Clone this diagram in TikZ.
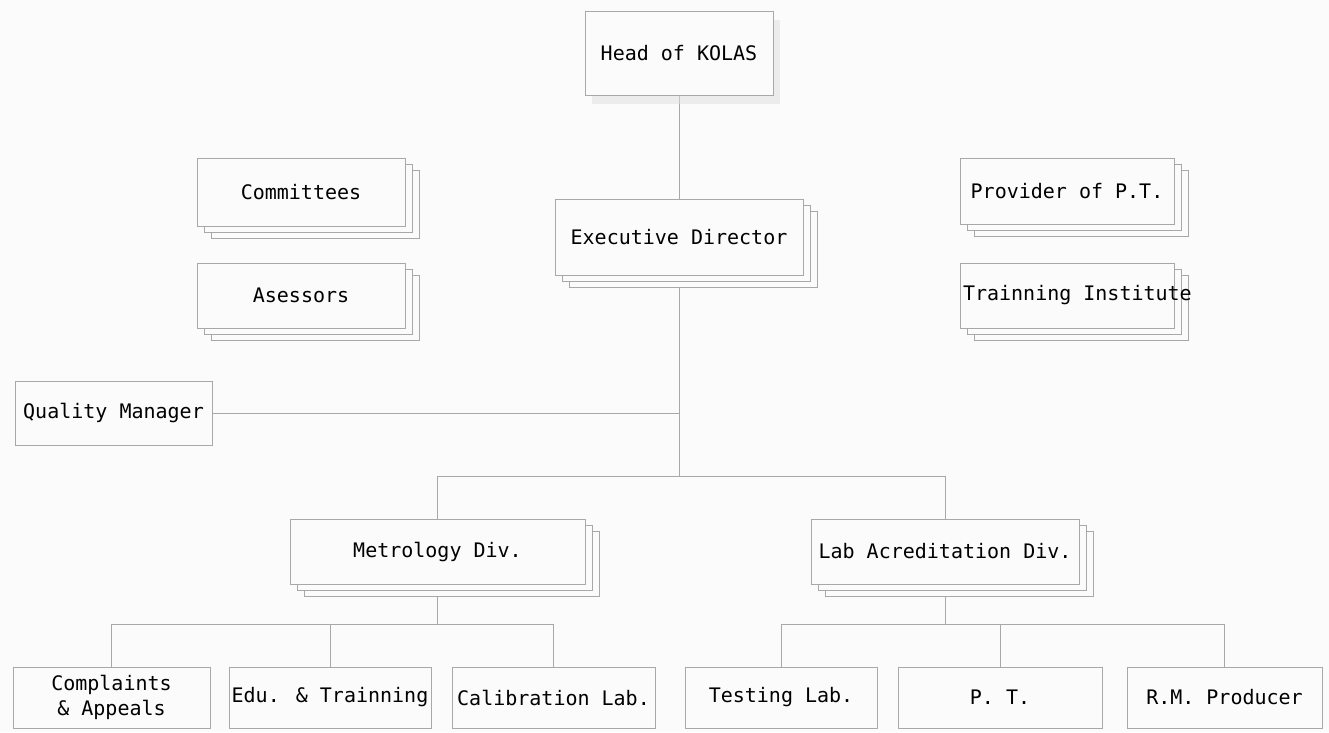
\documentclass[tikz,border=0pt]{standalone}
\usepackage{fontspec}
\newfontfamily\monof{DejaVu Sans Mono}
\usetikzlibrary{shadows,backgrounds}
\definecolor{ln}{RGB}{168,168,168}
\definecolor{bg}{RGB}{251,251,251}
\tikzset{
  unit/.style={draw=ln, fill=bg, line width=0.6pt, inner sep=0pt, align=center,
    text=black, font=\monof\fontsize{20}{27}\selectfont},
  stackbox/.style={unit, double copy shadow={shadow xshift=7pt, shadow yshift=-6pt, draw=ln, fill=bg, line width=0.6pt}},
  softbox/.style={unit, drop shadow={shadow xshift=7pt, shadow yshift=-9pt, fill=gray!25, opacity=0.5}},
  link/.style={draw=ln, line width=0.6pt}
}
\begin{document}
\begin{tikzpicture}[x=1pt,y=-1pt]
\useasboundingbox (0,0) rectangle (1329,732);
% top
\node[softbox, minimum width=188pt, minimum height=84pt] (head) at (679,53) {Head of KOLAS};
\node[stackbox, minimum width=248pt, minimum height=76pt] (ed) at (679,237) {Executive Director};
% side boxes
\node[stackbox, minimum width=208pt, minimum height=68pt] (comm) at (301,192) {Committees};
\node[stackbox, minimum width=208pt, minimum height=65pt] (ases) at (301,295.5) {Asessors};
\node[stackbox, minimum width=214pt, minimum height=66pt] (prov) at (1067,191) {Provider of P.T.};
\node[stackbox, inner xsep=3pt, minimum width=214pt, minimum height=65pt] (train) at (1067,295.5) {\makebox[208pt][l]{Trainning Institute}};
\node[unit, minimum width=197pt, minimum height=64pt] (qm) at (113.5,413) {Quality Manager};
% divisions
\node[stackbox, minimum width=295pt, minimum height=65pt] (met) at (437.5,551.5) {Metrology Div.};
\node[stackbox, minimum width=268pt, minimum height=65pt] (lab) at (945,551.5) {Lab Acreditation Div.};
% bottom row
\node[unit, minimum width=197pt, minimum height=61pt] (comp) at (111.5,697.5) {Complaints\\[-2pt]\& Appeals};
\node[unit, minimum width=202pt, minimum height=61pt] (edu) at (330,697.5) {Edu. \& Trainning};
\node[unit, minimum width=203pt, minimum height=61pt] (cal) at (553.5,697.5) {Calibration Lab.};
\node[unit, minimum width=192pt, minimum height=61pt] (test) at (781,697.5) {Testing Lab.};
\node[unit, minimum width=204pt, minimum height=61pt] (pt) at (1000,697.5) {P. T.};
\node[unit, minimum width=195pt, minimum height=61pt] (rm) at (1224.5,697.5) {R.M. Producer};
% junctions
\coordinate (trunk) at (679,476);
\coordinate (qmj) at (679,413);
\coordinate (mbus) at (437.5,624);
\coordinate (lbus) at (945,624);
\begin{scope}[on background layer]
  \fill[bg] (0,0) rectangle (1329,732);
  \draw[link] (head.south) -- (ed.north);
  \draw[link] (ed.south) -- (trunk);
  \draw[link] (qm.east) -- (qmj);
  \draw[link] (met.north) |- (trunk);
  \draw[link] (lab.north) |- (trunk);
  \draw[link] (met.south) -- (mbus);
  \draw[link] (comp.north) |- (mbus);
  \draw[link] (edu.north) |- (mbus);
  \draw[link] (cal.north) |- (mbus);
  \draw[link] (lab.south) -- (lbus);
  \draw[link] (test.north) |- (lbus);
  \draw[link] (pt.north) |- (lbus);
  \draw[link] (rm.north) |- (lbus);
\end{scope}
\end{tikzpicture}
\end{document}
